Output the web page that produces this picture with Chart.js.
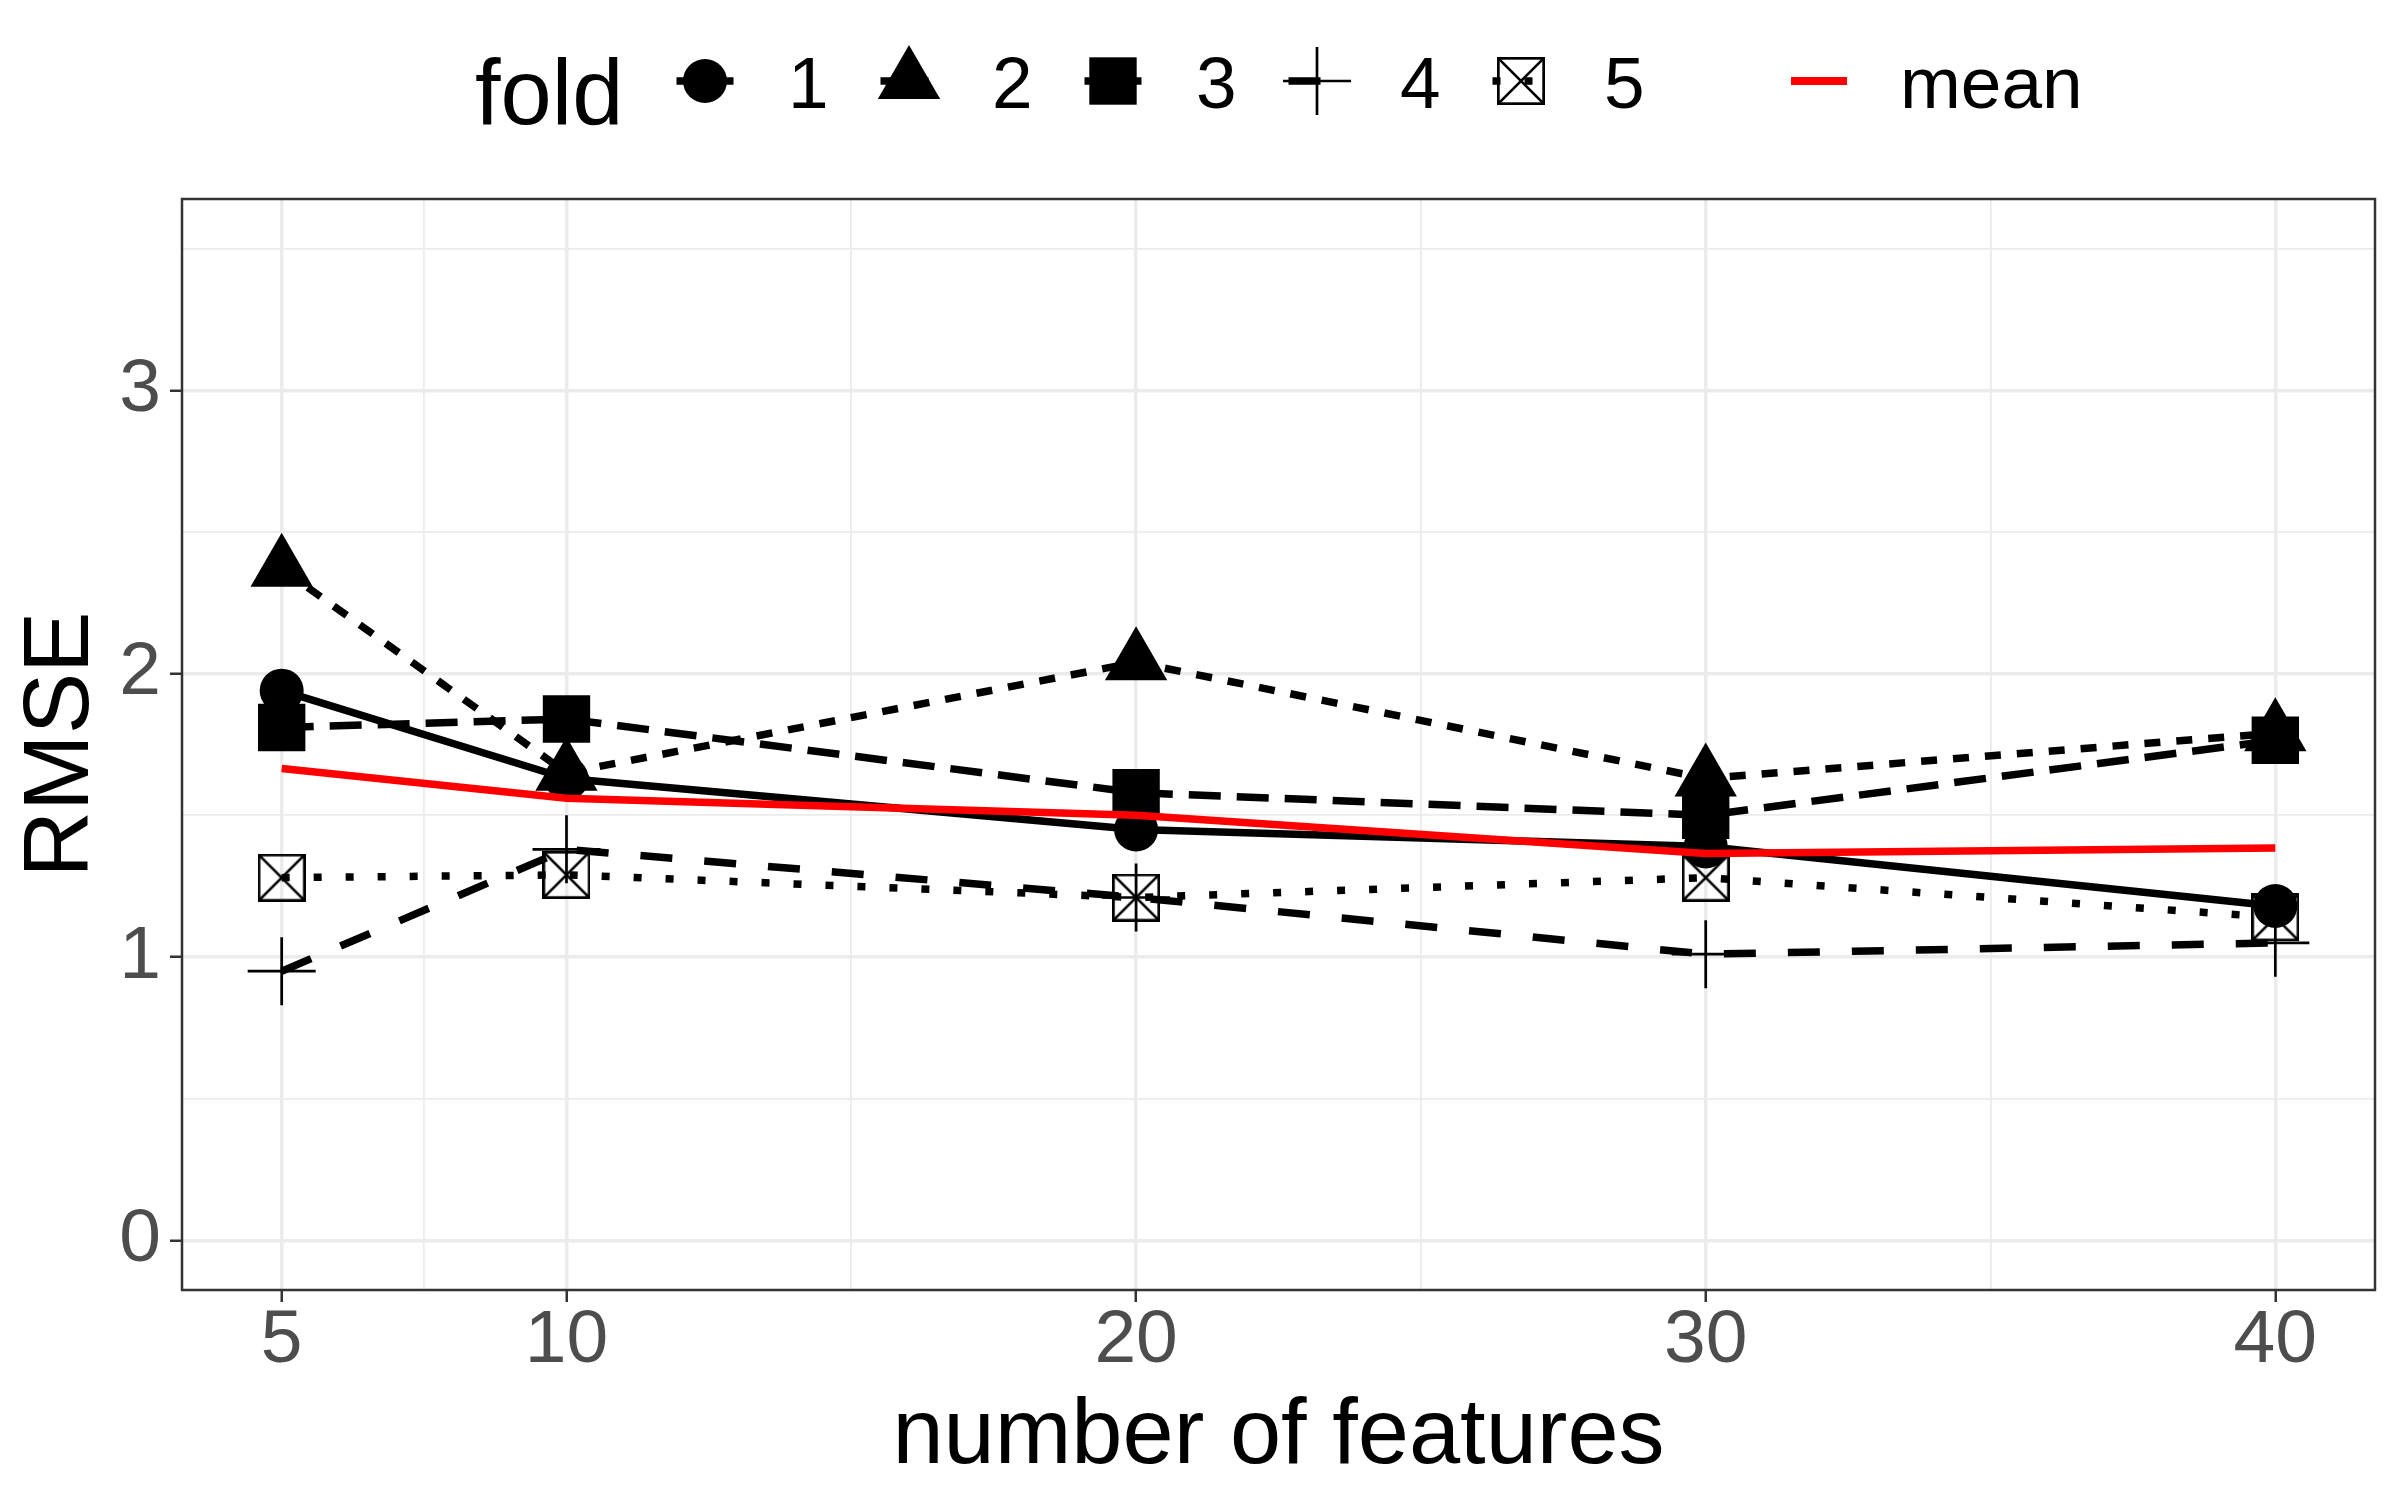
<!DOCTYPE html>
<html>
<head>
<meta charset="utf-8">
<title>RMSE by number of features</title>
<script src="https://cdn.jsdelivr.net/npm/chart.js@4.4.1/dist/chart.umd.min.js"></script>
<style>
  html, body { margin: 0; padding: 0; background: #fff; }
  canvas { display: block; }
</style>
</head>
<body>
<canvas id="rmseChart" width="2400" height="1500"></canvas>
<script>
// data
const features = [5, 10, 20, 30, 40];
const fold1 = [1.94, 1.63, 1.45, 1.39, 1.18];
const fold2 = [2.37, 1.65, 2.04, 1.63, 1.79];
const fold3 = [1.81, 1.84, 1.58, 1.50, 1.765];
const fold4 = [0.95, 1.38, 1.21, 1.01, 1.05];
const fold5 = [1.28, 1.29, 1.21, 1.28, 1.14];
const meanRmse = [1.665, 1.56, 1.50, 1.365, 1.385];

const foldLabels = ["1", "2", "3", "4", "5"];
const xTicks = [5, 10, 20, 30, 40];
const xMinor = [7.5, 15, 25, 35];
const yTicks = [0, 1, 2, 3];
const yMinor = [0.5, 1.5, 2.5, 3.5];

const FONT = "'Liberation Sans', Arial, sans-serif";
const LINE_W = 7.5;
const dashes = [[], [16, 16], [32, 16], [32, 32], [8, 24]];

// square with an X (ggplot shape 7)
function boxCross(size, lw) {
  const c = document.createElement("canvas");
  c.width = size;
  c.height = size;
  const g = c.getContext("2d");
  const h = lw / 2;
  g.strokeStyle = "#000";
  g.lineWidth = lw;
  g.strokeRect(h, h, size - lw, size - lw);
  g.beginPath();
  g.moveTo(h, h); g.lineTo(size - h, size - h);
  g.moveTo(size - h, h); g.lineTo(h, size - h);
  g.stroke();
  return c;
}

const markers = [
  { style: "circle", radius: 22, border: 0 },
  { style: "triangle", radius: 36, border: 0 },
  { style: "rect", radius: 33.5, border: 0 },
  { style: "cross", radius: 34, border: 2.7 },
  { style: boxCross(48, 2.7), radius: 24, border: 0 }
];

const folds = [fold1, fold2, fold3, fold4, fold5];
const toPoints = arr => arr.map((v, i) => ({ x: features[i], y: v }));

// red mean on top, then points, then fold lines underneath
const datasets = [{
  label: "mean",
  data: toPoints(meanRmse),
  borderColor: "#FF0000",
  borderWidth: LINE_W,
  pointRadius: 0,
  order: 0
}];
folds.forEach((arr, i) => {
  datasets.push({
    label: "fold " + foldLabels[i] + " points",
    data: toPoints(arr),
    showLine: false,
    pointStyle: markers[i].style,
    pointRadius: markers[i].radius,
    pointBackgroundColor: "#000",
    pointBorderColor: "#000",
    pointBorderWidth: markers[i].border,
    order: 5 - i
  });
  datasets.push({
    label: "fold " + foldLabels[i],
    data: toPoints(arr),
    borderColor: "#000",
    borderWidth: LINE_W,
    borderDash: dashes[i],
    borderCapStyle: "butt",
    borderJoinStyle: "round",
    pointRadius: 0,
    order: 10 - i
  });
});

function drawMarker(ctx, m, x, y) {
  ctx.save();
  ctx.fillStyle = "#000";
  ctx.strokeStyle = "#000";
  ctx.lineWidth = m.border;
  ctx.setLineDash([]);
  const r = m.radius;
  if (typeof m.style !== "string") {
    ctx.drawImage(m.style, x - m.style.width / 2, y - m.style.height / 2);
  } else if (m.style === "circle") {
    ctx.beginPath();
    ctx.arc(x, y, r, 0, Math.PI * 2);
    ctx.fill();
  } else if (m.style === "triangle") {
    ctx.beginPath();
    ctx.moveTo(x, y - r);
    ctx.lineTo(x + r * 0.866, y + r / 2);
    ctx.lineTo(x - r * 0.866, y + r / 2);
    ctx.closePath();
    ctx.fill();
  } else if (m.style === "rect") {
    const s = r * Math.SQRT1_2;
    ctx.fillRect(x - s, y - s, 2 * s, 2 * s);
  } else if (m.style === "cross") {
    ctx.beginPath();
    ctx.moveTo(x, y - r); ctx.lineTo(x, y + r);
    ctx.moveTo(x - r, y); ctx.lineTo(x + r, y);
    ctx.stroke();
  }
  ctx.restore();
}

// legend across the top, ggplot style
const foldLegend = {
  id: "foldLegend",
  afterDraw(chart) {
    const ctx = chart.ctx;
    const keyY = 81;
    ctx.save();
    ctx.fillStyle = "#000";
    ctx.textAlign = "left";
    ctx.textBaseline = "alphabetic";
    ctx.font = "92px " + FONT;
    ctx.fillText("fold", 475, 124);
    foldLabels.forEach((lab, i) => {
      const cx = 705 + i * 204;
      ctx.strokeStyle = "#000";
      ctx.lineWidth = LINE_W;
      ctx.lineCap = "butt";
      ctx.setLineDash(dashes[i]);
      ctx.beginPath();
      ctx.moveTo(cx - 28.5, keyY);
      ctx.lineTo(cx + 28.5, keyY);
      ctx.stroke();
      ctx.setLineDash([]);
      drawMarker(ctx, markers[i], cx, keyY);
      ctx.fillStyle = "#000";
      ctx.font = "73px " + FONT;
      ctx.fillText(lab, cx + 83, 108);
    });
    ctx.strokeStyle = "#FF0000";
    ctx.lineWidth = 8;
    ctx.beginPath();
    ctx.moveTo(1791, keyY);
    ctx.lineTo(1847, keyY);
    ctx.stroke();
    ctx.fillText("mean", 1900, 108);
    ctx.restore();
  }
};

// panel border drawn over the data
const panelBorder = {
  id: "panelBorder",
  afterDatasetsDraw(chart) {
    const { ctx, chartArea: a } = chart;
    ctx.save();
    ctx.strokeStyle = "#333333";
    ctx.lineWidth = 2.5;
    ctx.strokeRect(a.left, a.top, a.right - a.left, a.bottom - a.top);
    ctx.restore();
  }
};

const isMajor = (list, c) => c.tick && list.includes(c.tick.value);

new Chart(document.getElementById("rmseChart"), {
  type: "line",
  data: { datasets },
  options: {
    responsive: false,
    devicePixelRatio: 1,
    animation: false,
    events: [],
    layout: { autoPadding: false, padding: { top: 199, right: 25, bottom: 0, left: 0 } },
    plugins: { legend: { display: false }, tooltip: { enabled: false } },
    scales: {
      x: {
        type: "linear",
        min: 3.25,
        max: 41.75,
        afterBuildTicks: s => {
          s.ticks = [...xTicks, ...xMinor].sort((a, b) => a - b).map(v => ({ value: v }));
        },
        afterFit: s => {
          s.height = 210;
          s.paddingLeft = 0;
          s.paddingRight = 0;
        },
        ticks: {
          autoSkip: false,
          maxRotation: 0,
          padding: 2,
          color: "#4D4D4D",
          font: { family: FONT, size: 75, lineHeight: 1 },
          callback: v => xTicks.includes(v) ? String(v) : ""
        },
        grid: {
          color: "#EBEBEB",
          lineWidth: c => isMajor(xTicks, c) ? 3.5 : 1.8,
          tickLength: 12,
          tickWidth: 2.5,
          tickColor: c => isMajor(xTicks, c) ? "#333333" : "rgba(0,0,0,0)"
        },
        border: { display: false },
        title: {
          display: true,
          text: "number of features",
          color: "#000",
          font: { family: FONT, size: 92, lineHeight: 1.2 },
          padding: { top: 0, bottom: 7 }
        }
      },
      y: {
        type: "linear",
        min: -0.175,
        max: 3.675,
        afterBuildTicks: s => {
          s.ticks = [...yTicks, ...yMinor].sort((a, b) => a - b).map(v => ({ value: v }));
        },
        afterFit: s => {
          s.width = 182;
          s.paddingTop = 0;
          s.paddingBottom = 0;
        },
        ticks: {
          padding: 9,
          color: "#4D4D4D",
          font: { family: FONT, size: 75 },
          callback: v => yTicks.includes(v) ? String(v) : ""
        },
        grid: {
          color: "#EBEBEB",
          lineWidth: c => isMajor(yTicks, c) ? 3.5 : 1.8,
          tickLength: 12,
          tickWidth: 2.5,
          tickColor: c => isMajor(yTicks, c) ? "#333333" : "rgba(0,0,0,0)"
        },
        border: { display: false },
        title: {
          display: true,
          text: "RMSE",
          color: "#000",
          font: { family: FONT, size: 92, lineHeight: 1.2 },
          padding: { top: 7, bottom: 0 }
        }
      }
    }
  },
  plugins: [foldLegend, panelBorder]
});
</script>
</body>
</html>
